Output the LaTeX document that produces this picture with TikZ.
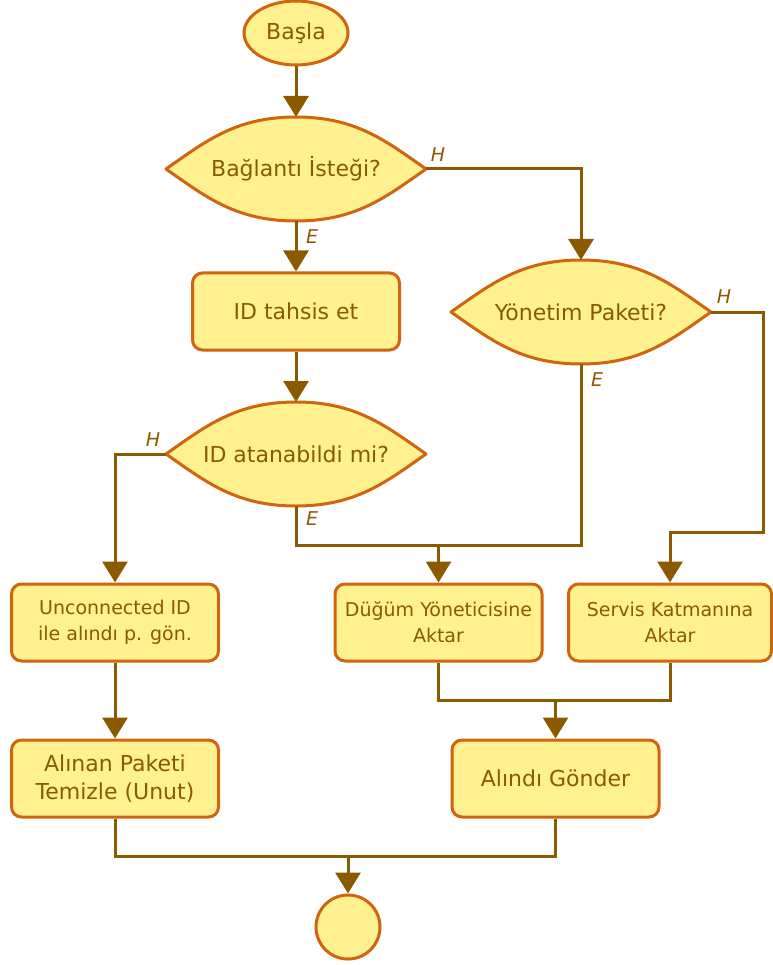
\documentclass[tikz,border=0pt]{standalone}
\usepackage{fontspec}
\setmainfont{DejaVu Sans}
\usetikzlibrary{shapes.geometric,arrows.meta,backgrounds}

\definecolor{boxfill}{HTML}{FFF18F}
\definecolor{boxline}{HTML}{D0640F}
\definecolor{flowline}{HTML}{8B5A00}

\tikzset{
  shapebase/.style={fill=boxfill, draw=boxline, line width=3pt, text=flowline, font=\fontsize{22}{28}\selectfont},
  terminal/.style={shapebase, ellipse, minimum width=104pt, minimum height=64pt, inner sep=0pt},
  endpoint/.style={shapebase, circle, minimum size=64pt, inner sep=0pt},
  procbox/.style={shapebase, rounded corners=10pt, minimum width=207pt, minimum height=77pt, align=center, inner sep=0pt},
  smallbox/.style={procbox, font=\fontsize{19}{26}\selectfont},
  decision/.style={diamond, aspect=2.5, minimum width=260pt, minimum height=104pt, inner sep=0pt, outer sep=0pt, text=flowline, font=\fontsize{22}{28}\selectfont},
  lensline/.style={fill=boxfill, draw=boxline, line width=3pt, line join=round},
  conn/.style={draw=flowline, line width=3pt},
  arr/.style={conn, -{Triangle[width=25pt,length=21pt]}},
  branch/.style={text=flowline, font=\fontsize{19}{21}\selectfont\itshape, inner sep=0pt}
}

% curved-side decision outline, drawn behind the node text
\newcommand\lensoutline[1]{%
  \begin{pgfonlayer}{background}
  \draw[lensline] (#1.west)
    .. controls ([xshift=40pt,yshift=28pt]#1.west) and ([xshift=-60pt]#1.north) .. (#1.north)
    .. controls ([xshift=60pt]#1.north) and ([xshift=-40pt,yshift=28pt]#1.east) .. (#1.east)
    .. controls ([xshift=-40pt,yshift=-28pt]#1.east) and ([xshift=60pt]#1.south) .. (#1.south)
    .. controls ([xshift=-60pt]#1.south) and ([xshift=40pt,yshift=-28pt]#1.west) .. cycle;
  \end{pgfonlayer}}

\begin{document}
\begin{tikzpicture}[x=1pt, y=-1pt]
\useasboundingbox (0,0) rectangle (772,965);

% nodes
\node[terminal] (start) at (296,33) {Başla};
\node[decision] (d1) at (296,169) {Bağlantı İsteği?};
\node[procbox] (idt) at (296,311.5) {ID tahsis et};
\node[decision] (d2) at (296,454) {ID atanabildi mi?};
\node[decision] (d3) at (581,312) {Yönetim Paketi?};
\node[smallbox] (unc) at (115,622.5) {Unconnected ID\\ile alındı p. gön.};
\node[smallbox] (dug) at (438.5,622.5) {Düğüm Yöneticisine\\Aktar};
\node[smallbox, minimum width=203pt] (serv) at (670,622.5) {Servis Katmanına\\Aktar};
\node[procbox] (aln) at (115,778.5) {Alınan Paketi\\Temizle (Unut)};
\node[procbox] (ald) at (555.5,778.5) {Alındı Gönder};
\node[endpoint] (stop) at (348,927) {};

\lensoutline{d1}
\lensoutline{d2}
\lensoutline{d3}

% junction points
\coordinate (j1) at (438.5,545);
\coordinate (j2) at (763,532);
\coordinate (j3) at (555.5,700);
\coordinate (j4) at (348,856);

% connectors
\draw[arr] (start) -- (d1);
\draw[arr] (d1) -- (idt);
\draw[arr] (d1.east) -| (d3);
\draw[arr] (idt) -- (d2);
\draw[arr] (d2.west) -| (unc);
\draw[conn] (d2.south) |- (j1);
\draw[conn] (d3.south) |- (j1);
\draw[arr] (j1) -- (dug);
\draw[arr] (d3.east) -| (j2) -| (serv);
\draw[arr] (unc) -- (aln);
\draw[conn] (dug.south) |- (j3);
\draw[conn] (serv.south) |- (j3);
\draw[arr] (j3) -- (ald);
\draw[conn] (aln.south) |- (j4);
\draw[conn] (ald.south) |- (j4);
\draw[arr] (j4) -- (stop);

% branch labels
\node[branch] (l1) at (438,155) {H};
\node[branch] (l2) at (312,237) {E};
\node[branch] (l3) at (153,440) {H};
\node[branch] (l4) at (312,519) {E};
\node[branch] (l5) at (724,297) {H};
\node[branch] (l6) at (597,380) {E};
\end{tikzpicture}
\end{document}
